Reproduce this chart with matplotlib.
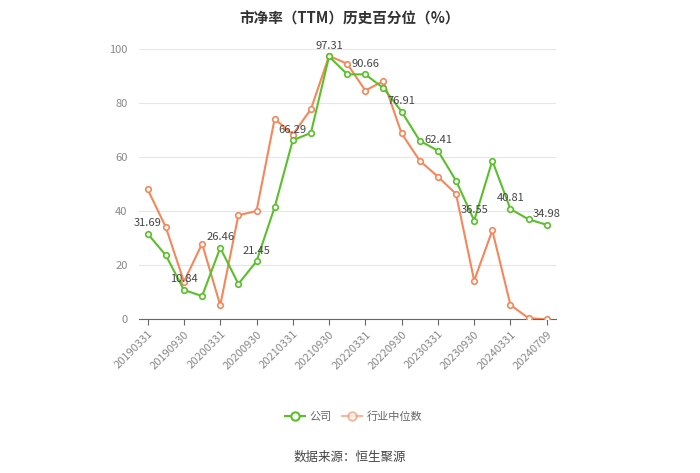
import matplotlib.pyplot as plt
import numpy as np

plt.rcParams['font.family'] = ['Noto Sans CJK SC', 'DejaVu Sans']

dates = ['20190331', '20190630', '20190930', '20191231',
         '20200331', '20200630', '20200930', '20201231',
         '20210331', '20210630', '20210930', '20211231',
         '20220331', '20220630', '20220930', '20221231',
         '20230331', '20230630', '20230930', '20231231',
         '20240331', '20240630', '20240709']
company = [31.69, 23.7, 10.84, 8.6, 26.46, 13.1, 21.45, 41.5,
           66.29, 69.0, 97.31, 90.7, 90.66, 85.6, 76.91, 66.1,
           62.41, 51.3, 36.55, 58.7, 40.81, 37.0, 34.98]
industry = [48.1, 34.1, 13.9, 28.0, 5.2, 38.5, 40.1, 74.2,
            68.4, 77.8, 97.5, 94.6, 84.7, 88.2, 68.8, 58.7,
            52.8, 46.4, 14.3, 32.9, 5.3, 0.4, 0.0]

green = '#5ac02a'
orange = '#f5875a'

fig = plt.figure(figsize=(7, 4.73), dpi=100)
ax = fig.add_axes([0.198, 0.325, 0.596, 0.571])

x = np.arange(len(dates))
ax.plot(x, industry, color=orange, lw=1.5, marker='o', ms=4,
        mfc='white', mec=orange, mew=1.2, zorder=3)
ax.plot(x, company, color=green, lw=1.5, marker='o', ms=4,
        mfc='white', mec=green, mew=1.2, zorder=4)

# 每隔一个点标注公司数值
for i in range(0, len(dates), 2):
    ax.annotate(f'{company[i]:.2f}', (x[i], company[i]), xytext=(0, 4),
                textcoords='offset points', ha='center', va='bottom',
                fontsize=8, color='#444444', zorder=5)

ax.set_xlim(-0.5, len(dates) - 0.5)
ax.set_ylim(0, 100)
ax.set_yticks([0, 20, 40, 60, 80, 100])
ax.tick_params(axis='y', length=0, labelsize=8, labelcolor='#888888', pad=8)
ax.set_xticks(x[::2])
ax.set_xticklabels(dates[::2], rotation=45, ha='right', rotation_mode='anchor',
                   fontsize=8, color='#888888')
ax.tick_params(axis='x', length=4, color='#666666', pad=3)
ax.grid(axis='y', color='#e6e6e6', lw=0.8)
ax.set_axisbelow(True)
for s in ['top', 'right', 'left']:
    ax.spines[s].set_visible(False)
ax.spines['bottom'].set_color('#666666')

fig.text(0.5, 0.977, '市净率（TTM）历史百分位（%）', ha='center', va='top',
         fontsize=10.5, fontweight='bold', color='#333333')

h1, = ax.plot([], [], color=green, lw=1.5, marker='o', ms=6, mfc='white', mec=green, mew=1.5)
h2, = ax.plot([], [], color=orange, lw=1.5, marker='o', ms=6, mfc='white', mec=orange,
              mew=1.5, alpha=0.6)
leg = fig.legend([h1, h2], ['公司', '行业中位数'], loc='center', bbox_to_anchor=(0.505, 0.12),
                 ncol=2, frameon=False, fontsize=8, handlelength=1.8, columnspacing=1.0,
                 handletextpad=0.4)
for t in leg.get_texts():
    t.set_color('#666666')

fig.text(0.5, 0.033, '数据来源：恒生聚源', ha='center', va='center', fontsize=9, color='#444444')

fig.savefig('out.png', dpi=100)
